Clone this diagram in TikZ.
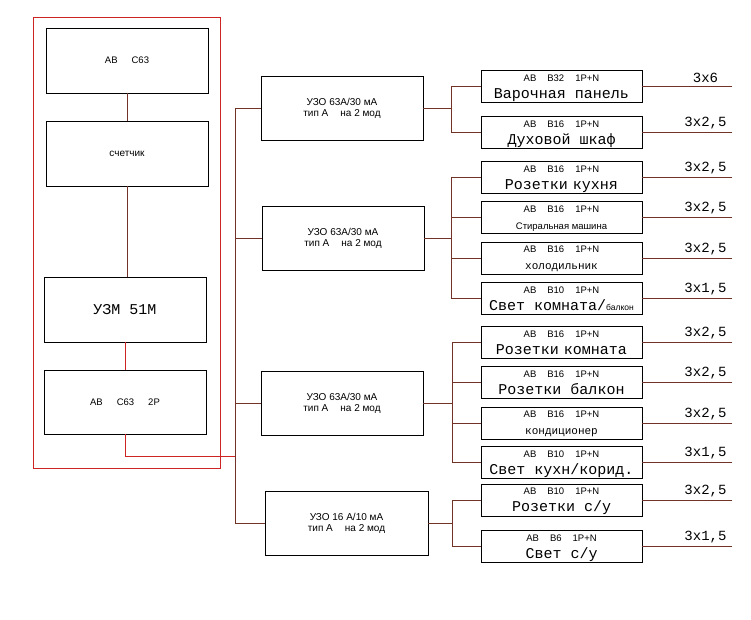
\documentclass[tikz,border=0pt]{standalone}
\usepackage{fontspec}
\setmainfont{Liberation Sans}
\newfontfamily\cadfont{Liberation Mono}
\usetikzlibrary{positioning}

\definecolor{wirebrown}{RGB}{115,50,40}
\definecolor{framered}{RGB}{205,35,35}

\tikzset{
  blok/.style={draw, line width=0.9pt, minimum width=162pt, minimum height=65pt, inner sep=0pt, font=\fontsize{9.5}{11}\selectfont},
  uzo/.style={blok, minimum height=64pt, align=center, font=\fontsize{10}{11}\selectfont},
  avt/.style={draw, line width=0.9pt, minimum width=161pt, minimum height=32pt, inner sep=0pt},
  toptxt/.style={inner sep=0pt, anchor=base, font=\fontsize{9.5}{10}\selectfont},
  bigtxt/.style={inner sep=0pt, anchor=base, font=\cadfont\fontsize{15}{15}\selectfont},
  cable/.style={inner sep=0pt, font=\cadfont\fontsize{14}{14}\selectfont},
  wire/.style={draw=wirebrown, line width=0.9pt},
}

\begin{document}
\begin{tikzpicture}[x=1pt, y=-1pt]
    \useasboundingbox (0,0) rectangle (751,619);

    %draw red frame
    \draw[framered, line width=1pt] (33,17) rectangle (220,468);

    %draw left column
    \node[blok] (av) at (127,60.5) {АВ\hspace{14pt}С63};
    \node[blok, font=\fontsize{10}{11}\selectfont] (sch) at (127,153.5) {счетчик};
    \node[blok, font=\cadfont\fontsize{15}{15}\selectfont] (uzm) at (125,309.5) {УЗМ 51М};
    \node[blok, minimum height=64pt] (av2) at (125,402) {АВ\hspace{14pt}С63\hspace{14pt}2Р};

    \draw[wire] (av) -- (sch);
    \draw[wire] (sch.south) -- (sch.south |- uzm.north);
    \draw[framered, line width=0.9pt] (uzm) -- (av2);

    %draw main bus
    \coordinate (bus) at (235,456);
    \draw[framered, line width=0.9pt] (av2.south) |- (bus);

    %draw RCD boxes
    \node[uzo] (u1) at (342,108) {УЗО 63А/30 мА\\тип А\hspace{12pt}на 2 мод};
    \node[uzo] (u2) at (343,238) {УЗО 63А/30 мА\\тип А\hspace{12pt}на 2 мод};
    \node[uzo] (u3) at (342,403) {УЗО 63А/30 мА\\тип А\hspace{12pt}на 2 мод};
    \node[uzo, minimum width=163pt] (u4) at (346.5,523) {УЗО 16 А/10 мА\\тип А\hspace{12pt}на 2 мод};

    \foreach \u in {u1,u2,u3,u4}
    \draw[wire] (bus) |- (\u.west);

    %draw breakers and cables
    \foreach \n/\y/\a/\b/\c in {
      r1/86.5/В32/{Варочная панель}/{3x6},
      r2/132.5/В16/{Духовой шкаф}/{3x2,5},
      r3/177.5/В16/{Розетки\hspace{-4pt} кухня}/{3x2,5},
      r4/217.5/В16/{\normalfont\fontsize{9.5}{10}\selectfont Стиральная машина}/{3x2,5},
      r5/258/В16/{\fontsize{11}{11}\selectfont холодильник}/{3x2,5},
      r6/298.5/В10/{Свет комната/{\normalfont\fontsize{8.5}{9}\selectfont балкон}}/{3x1,5},
      r7/342.5/В16/{Розетки\hspace{-4pt} комната}/{3x2,5},
      r8/382.5/В16/{Розетки балкон}/{3x2,5},
      r9/423/В16/{\fontsize{11}{11}\selectfont кондиционер}/{3x2,5},
      r10/462.5/В10/{Свет кухн/корид.}/{3x1,5},
      r11/500/В10/{Розетки с/у}/{3x2,5},
      r12/546.5/В6/{Свет с/у}/{3x1,5}}
    {
      \node[avt] (\n) at (561.5,\y) {};
      \node[toptxt] (\n t) at ([yshift=5.5pt]\n.center) {АВ\hspace{11pt}\a\hspace{11pt}1Р+N};
      \node[bigtxt] (\n b) at ([yshift=-11.5pt]\n.center) {\b};
      \draw[wire] (\n.east) -- ++(90,0) node[cable, pos=0.7, above=3pt] {\c};
    }

    %draw group buses
    \coordinate (b1) at (451,108);
    \coordinate (b2) at (451,238);
    \coordinate (b3) at (452,403);
    \coordinate (b4) at (452,523);
    \draw[wire] (u1.east) -- (b1);
    \draw[wire] (u2.east) -- (b2);
    \draw[wire] (u3.east) -- (b3);
    \draw[wire] (u4.east) -- (b4);
    \foreach \r in {r1,r2} \draw[wire] (b1) |- (\r.west);
    \foreach \r in {r3,r4,r5,r6} \draw[wire] (b2) |- (\r.west);
    \foreach \r in {r7,r8,r9,r10} \draw[wire] (b3) |- (\r.west);
    \foreach \r in {r11,r12} \draw[wire] (b4) |- (\r.west);

\end{tikzpicture}
\end{document}
